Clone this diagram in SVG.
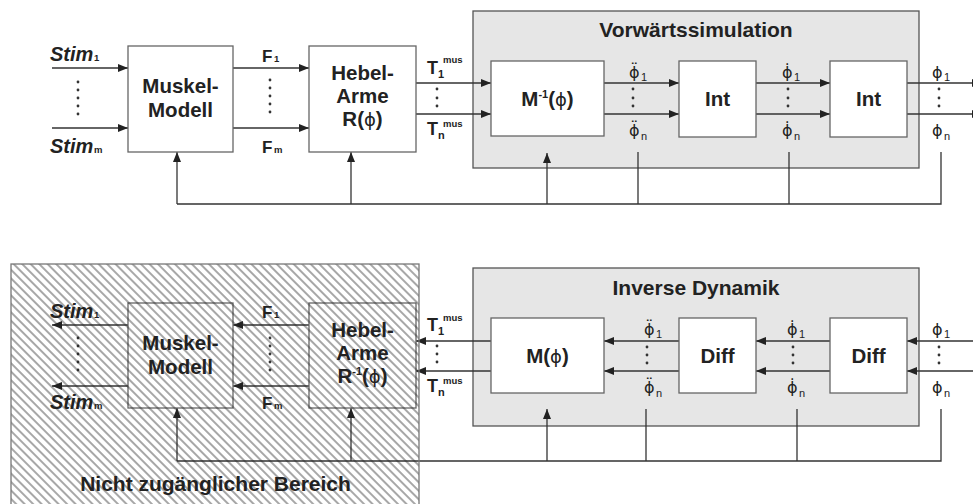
<svg xmlns="http://www.w3.org/2000/svg" width="973" height="504" viewBox="0 0 973 504">
<style>
text{font-family:"Liberation Sans",Arial,sans-serif;fill:#222}
.box{fill:#fff;stroke:#666;stroke-width:1.3}
.hbox{fill:none;stroke:#666;stroke-width:1.3}
.panel{fill:#e6e6e6;stroke:#555;stroke-width:1.3}
.lbl{font-weight:bold;font-size:20.5px;text-anchor:middle}
.title{font-weight:bold;font-size:21px;text-anchor:middle}
.stim{font-weight:bold;font-style:italic;font-size:20px}
.s10{font-size:9.5px;font-weight:bold;font-style:normal}
.f{font-weight:bold;font-size:17px}
.t{font-weight:bold;font-size:18px}
.phi{font-family:"DejaVu Sans",sans-serif;font-size:16px}
.gk{font-family:"DejaVu Sans",sans-serif;font-weight:normal;font-size:18px}
.ps{font-family:"Liberation Sans",Arial,sans-serif;font-size:11px}
.c{stroke:#333;stroke-width:1.3;fill:none}
.a{marker-end:url(#ah)}
.dot{fill:#333}
</style>
<defs>
<marker id="ah" viewBox="0 0 10 8" refX="10" refY="4" markerWidth="10" markerHeight="8" markerUnits="userSpaceOnUse" orient="auto"><path d="M0,0 L10,4 L0,8 z" fill="#222"/></marker>
<pattern id="hatch" patternUnits="userSpaceOnUse" width="6" height="6" patternTransform="rotate(-45)"><line x1="3" y1="-1" x2="3" y2="7" stroke="#222" stroke-width="0.8"/></pattern>
</defs>

<g id="vorwaertssimulation">
<rect class="panel" x="473" y="11" width="446" height="157"/>
<text class="title" x="696" y="37">Vorwärtssimulation</text>
</g>
<g id="inverse-dynamik">
<rect class="panel" x="473" y="268" width="446" height="158"/>
<text class="title" x="696" y="295">Inverse Dynamik</text>
</g>

<g id="connectors">
<line class="c a" x1="52" y1="68" x2="128" y2="68"/>
<line class="c a" x1="52" y1="128" x2="128" y2="128"/>
<line class="c a" x1="233" y1="68" x2="309" y2="68"/>
<line class="c a" x1="233" y1="128" x2="309" y2="128"/>
<line class="c a" x1="416" y1="83" x2="491" y2="83"/>
<line class="c a" x1="416" y1="114" x2="491" y2="114"/>
<line class="c a" x1="604" y1="83" x2="679" y2="83"/>
<line class="c a" x1="604" y1="114" x2="679" y2="114"/>
<line class="c a" x1="756" y1="83" x2="830" y2="83"/>
<line class="c a" x1="756" y1="114" x2="830" y2="114"/>
<line class="c a" x1="907" y1="83" x2="982" y2="83"/>
<line class="c a" x1="907" y1="114" x2="982" y2="114"/>
<polyline class="c" points="177,204 941,204 941,152"/>
<line class="c a" x1="177" y1="204" x2="177" y2="152"/>
<line class="c a" x1="351" y1="204" x2="351" y2="152"/>
<line class="c a" x1="547" y1="204" x2="547" y2="153"/>
<line class="c" x1="638" y1="152" x2="638" y2="204"/>
<line class="c" x1="789" y1="152" x2="789" y2="204"/>
<line class="c a" x1="128" y1="325" x2="52" y2="325"/>
<line class="c a" x1="128" y1="386" x2="52" y2="386"/>
<line class="c a" x1="309" y1="325" x2="233" y2="325"/>
<line class="c a" x1="309" y1="386" x2="233" y2="386"/>
<line class="c a" x1="491" y1="341" x2="416" y2="341"/>
<line class="c a" x1="491" y1="371" x2="416" y2="371"/>
<line class="c a" x1="679" y1="341" x2="604" y2="341"/>
<line class="c a" x1="679" y1="371" x2="604" y2="371"/>
<line class="c a" x1="830" y1="341" x2="756" y2="341"/>
<line class="c a" x1="830" y1="371" x2="756" y2="371"/>
<line class="c a" x1="975" y1="341" x2="907" y2="341"/>
<line class="c a" x1="975" y1="371" x2="907" y2="371"/>
<polyline class="c" points="177,461 941,461 941,409"/>
<line class="c a" x1="177" y1="461" x2="177" y2="408"/>
<line class="c a" x1="351" y1="461" x2="351" y2="408"/>
<line class="c a" x1="547" y1="461" x2="547" y2="409"/>
<line class="c" x1="646" y1="409" x2="646" y2="461"/>
<line class="c" x1="797" y1="409" x2="797" y2="461"/>
</g>

<g id="muskel-top">
<rect class="box" x="128" y="46" width="105" height="106"/>
<text class="lbl" x="180.5" y="93">Muskel-</text>
<text class="lbl" x="180.5" y="117">Modell</text>
</g>
<g id="hebel-top">
<rect class="box" x="309" y="46" width="107" height="106"/>
<text class="lbl" x="362.5" y="80">Hebel-</text>
<text class="lbl" x="362.5" y="103">Arme</text>
<text class="lbl" x="362.5" y="126">R(<tspan class="gk">ϕ</tspan>)</text>
</g>
<g id="minv">
<rect class="box" x="491" y="61" width="113" height="75"/>
<text class="lbl" x="547.5" y="106">M<tspan font-size="11" dy="-8">-1</tspan><tspan dy="8">(</tspan><tspan class="gk">ϕ</tspan>)</text>
</g>
<g id="int1">
<rect class="box" x="679" y="61" width="77" height="76"/>
<text class="lbl" x="717.5" y="106">Int</text>
</g>
<g id="int2">
<rect class="box" x="830" y="61" width="77" height="76"/>
<text class="lbl" x="868.5" y="106">Int</text>
</g>

<g id="muskel-bottom">
<rect class="hbox" x="128" y="303" width="105" height="105"/>
<text class="lbl" x="180.5" y="350">Muskel-</text>
<text class="lbl" x="180.5" y="374">Modell</text>
</g>
<g id="hebel-bottom">
<rect class="hbox" x="309" y="303" width="107" height="105"/>
<text class="lbl" x="362.5" y="337">Hebel-</text>
<text class="lbl" x="362.5" y="360">Arme</text>
<text class="lbl" x="362.5" y="383">R<tspan font-size="11" dy="-8">-1</tspan><tspan dy="8">(</tspan><tspan class="gk">ϕ</tspan>)</text>
</g>
<g id="m">
<rect class="box" x="491" y="318" width="113" height="75"/>
<text class="lbl" x="547.5" y="363">M(<tspan class="gk">ϕ</tspan>)</text>
</g>
<g id="diff1">
<rect class="box" x="679" y="318" width="77" height="75"/>
<text class="lbl" x="717.5" y="363">Diff</text>
</g>
<g id="diff2">
<rect class="box" x="830" y="318" width="77" height="75"/>
<text class="lbl" x="868.5" y="363">Diff</text>
</g>

<g id="labels-top">
<text class="stim" x="50" y="61">Stim<tspan class="s10" x="94">1</tspan></text>
<text class="stim" x="50" y="153">Stim<tspan class="s10" x="94">m</tspan></text>
<text class="f" x="262" y="62">F<tspan class="s10" x="274">1</tspan></text>
<text class="f" x="262" y="153">F<tspan class="s10" x="274">m</tspan></text>
<text class="t" x="427" y="74">T<tspan font-size="11" x="438" y="78">1</tspan><tspan class="s10" x="443" y="63">mus</tspan></text>
<text class="t" x="427" y="135">T<tspan font-size="11" x="438" y="139">n</tspan><tspan class="s10" x="443" y="127">mus</tspan></text>
<text class="phi" x="629" y="78">ϕ̈<tspan class="ps" x="641" y="81">1</tspan></text>
<text class="phi" x="629" y="136">ϕ̈<tspan class="ps" x="641" y="140">n</tspan></text>
<text class="phi" x="782" y="78">ϕ̇<tspan class="ps" x="794" y="81">1</tspan></text>
<text class="phi" x="782" y="136">ϕ̇<tspan class="ps" x="794" y="140">n</tspan></text>
<text class="phi" x="932" y="78">ϕ<tspan class="ps" x="944" y="81">1</tspan></text>
<text class="phi" x="932" y="136">ϕ<tspan class="ps" x="944" y="140">n</tspan></text>
</g>

<g id="labels-bottom">
<text class="stim" x="50" y="318">Stim<tspan class="s10" x="94">1</tspan></text>
<text class="stim" x="50" y="409">Stim<tspan class="s10" x="94">m</tspan></text>
<text class="f" x="262" y="318">F<tspan class="s10" x="274">1</tspan></text>
<text class="f" x="262" y="409">F<tspan class="s10" x="274">m</tspan></text>
<text class="t" x="427" y="331">T<tspan font-size="11" x="438" y="335">1</tspan><tspan class="s10" x="443" y="321">mus</tspan></text>
<text class="t" x="427" y="392">T<tspan font-size="11" x="438" y="396">n</tspan><tspan class="s10" x="443" y="384">mus</tspan></text>
<text class="phi" x="644" y="335">ϕ̈<tspan class="ps" x="656" y="338">1</tspan></text>
<text class="phi" x="644" y="393">ϕ̈<tspan class="ps" x="656" y="397">n</tspan></text>
<text class="phi" x="787" y="335">ϕ̇<tspan class="ps" x="799" y="338">1</tspan></text>
<text class="phi" x="787" y="393">ϕ̇<tspan class="ps" x="799" y="397">n</tspan></text>
<text class="phi" x="932" y="335">ϕ<tspan class="ps" x="944" y="338">1</tspan></text>
<text class="phi" x="932" y="393">ϕ<tspan class="ps" x="944" y="397">n</tspan></text>
</g>

<g id="dots" class="dot">
<circle cx="78" cy="82" r="1.4"/><circle cx="78" cy="90" r="1.4"/><circle cx="78" cy="98" r="1.4"/><circle cx="78" cy="106" r="1.4"/><circle cx="78" cy="114" r="1.4"/>
<circle cx="270" cy="80" r="1.4"/><circle cx="270" cy="88" r="1.4"/><circle cx="270" cy="96" r="1.4"/><circle cx="270" cy="104" r="1.4"/><circle cx="270" cy="112" r="1.4"/>
<circle cx="437" cy="89" r="1.4"/><circle cx="437" cy="98" r="1.4"/><circle cx="437" cy="106" r="1.4"/>
<circle cx="633" cy="89" r="1.4"/><circle cx="633" cy="98" r="1.4"/><circle cx="633" cy="106" r="1.4"/>
<circle cx="788" cy="89" r="1.4"/><circle cx="788" cy="98" r="1.4"/><circle cx="788" cy="106" r="1.4"/>
<circle cx="939" cy="89" r="1.4"/><circle cx="939" cy="98" r="1.4"/><circle cx="939" cy="106" r="1.4"/>
<circle cx="78" cy="338" r="1.4"/><circle cx="78" cy="346" r="1.4"/><circle cx="78" cy="354" r="1.4"/><circle cx="78" cy="362" r="1.4"/><circle cx="78" cy="370" r="1.4"/>
<circle cx="270" cy="338" r="1.4"/><circle cx="270" cy="346" r="1.4"/><circle cx="270" cy="354" r="1.4"/><circle cx="270" cy="362" r="1.4"/><circle cx="270" cy="370" r="1.4"/>
<circle cx="437" cy="346" r="1.4"/><circle cx="437" cy="354" r="1.4"/><circle cx="437" cy="362" r="1.4"/>
<circle cx="647" cy="347" r="1.4"/><circle cx="647" cy="355" r="1.4"/><circle cx="647" cy="363" r="1.4"/>
<circle cx="793" cy="347" r="1.4"/><circle cx="793" cy="355" r="1.4"/><circle cx="793" cy="363" r="1.4"/>
<circle cx="939" cy="347" r="1.4"/><circle cx="939" cy="355" r="1.4"/><circle cx="939" cy="363" r="1.4"/>
</g>

<g id="nicht-zugaenglich">
<text class="title" x="215.5" y="491">Nicht zugänglicher Bereich</text>
<rect x="11" y="264" width="408" height="250" fill="url(#hatch)" stroke="#777" stroke-width="1.3"/>
</g>
</svg>
